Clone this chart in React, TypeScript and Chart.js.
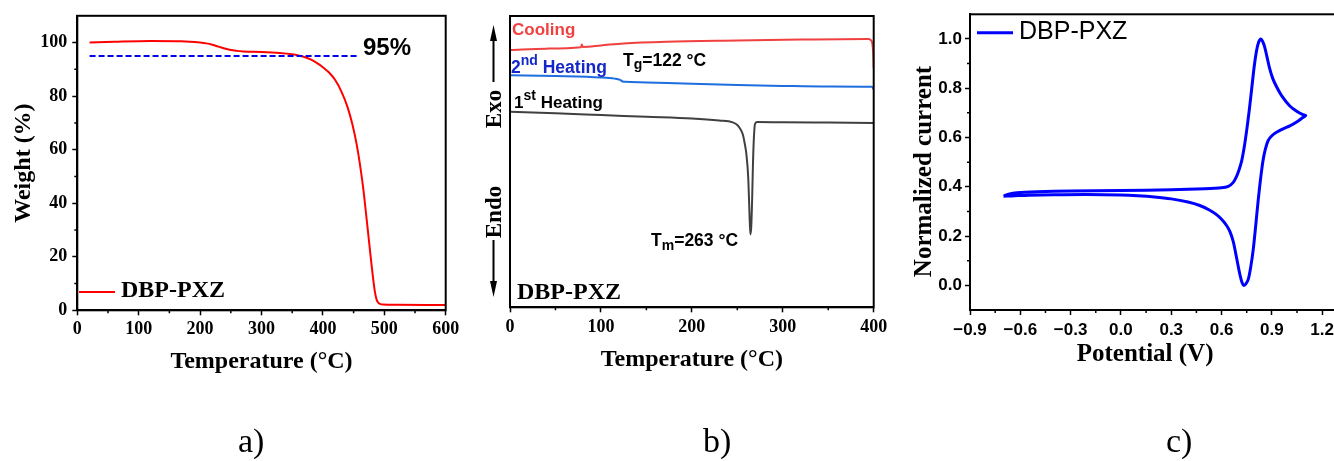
import React, { useEffect, useRef } from "react";
import { Chart, registerables } from "chart.js";

Chart.register(...registerables);

// ---------------- Panel a) TGA ----------------
const tgaTemperature = [20, 60, 120, 170, 200, 210, 220, 230, 240, 250, 260, 270, 300, 330, 350, 360, 370, 380, 390, 400, 410, 420, 430, 440, 448, 455, 461, 466, 471, 475, 479, 482, 485, 487.5, 490, 493, 498, 520, 600];
const tgaWeight = [100.0, 100.3, 100.6, 100.5, 100.0, 99.7, 99.2, 98.5, 97.8, 97.2, 96.9, 96.7, 96.5, 96.1, 95.6, 95.2, 94.6, 93.7, 92.4, 90.8, 88.8, 86.0, 81.8, 76.0, 69.5, 62.0, 53.5, 45.0, 34.5, 26.0, 17.5, 11.5, 6.5, 4.0, 2.9, 2.4, 2.15, 2.05, 2.0];
const t5Temperature = [20, 456];
const t5Weight = [95, 95];
const tgaXTicks = [0, 100, 200, 300, 400, 500, 600];
const tgaYTicks = [0, 20, 40, 60, 80, 100];

// ---------------- Panel b) DSC ----------------
const coolingTemperature = [0, 40, 78, 79, 80, 100, 125, 172, 250, 320, 394, 396.5, 398.5, 399.5, 400];
const coolingHeatFlow = [88.3, 88.8, 89.3, 90.2, 89.4, 89.9, 90.6, 91.2, 91.6, 91.9, 92.1, 91.8, 90.5, 87.0, 82.0];
const heating2Temperature = [0, 50, 100, 115, 121, 124, 127, 150, 200, 250, 300, 350, 398, 400];
const heating2HeatFlow = [79.7, 79.4, 78.9, 78.5, 78.1, 77.5, 77.4, 77.2, 76.7, 76.3, 76.0, 75.8, 75.7, 74.8];
const heating1Temperature = [0, 50, 100, 150, 200, 230, 245, 250, 253, 256, 258, 260, 262, 263.3, 264.3, 265.3, 266.3, 267.2, 268.2, 269.5, 272, 300, 350, 400];
const heating1HeatFlow = [67.1, 66.6, 66.0, 65.4, 64.8, 64.1, 63.5, 62.6, 61.4, 59.4, 56.5, 52.5, 44.5, 33.0, 25.0, 27.5, 37.0, 49.0, 58.0, 63.0, 63.6, 63.5, 63.4, 63.3];
const dscXTicks = [0, 100, 200, 300, 400];

// ---------------- Panel c) CV ----------------
const cvPotential = [
  -0.70, -0.67, -0.62, -0.50, -0.30, 0.00, 0.30, 0.50, 0.60, 0.64, 0.67, 0.69, 0.705, 0.72, 0.735, 0.75, 0.765, 0.78, 0.795, 0.808, 0.82, 0.834,
  0.845, 0.858, 0.87, 0.885, 0.905, 0.928, 0.96, 1.007, 1.05, 1.085, 1.102,
  1.085, 1.05, 1.007, 0.97, 0.93, 0.90, 0.878, 0.862, 0.848, 0.834, 0.819, 0.804, 0.789, 0.774, 0.759, 0.745, 0.733,
  0.722, 0.71, 0.69, 0.67, 0.65, 0.63, 0.60, 0.57, 0.53, 0.47, 0.40, 0.30, 0.20, 0.10, 0.00, -0.20, -0.40, -0.55, -0.65, -0.70,
];
const cvCurrent = [
  0.362, 0.370, 0.376, 0.380, 0.383, 0.385, 0.388, 0.392, 0.396, 0.402, 0.418, 0.443, 0.47, 0.505, 0.56, 0.63, 0.71, 0.80, 0.89, 0.95, 0.985, 1.0,
  0.99, 0.965, 0.93, 0.885, 0.84, 0.806, 0.768, 0.728, 0.706, 0.693, 0.689,
  0.681, 0.664, 0.647, 0.636, 0.622, 0.607, 0.588, 0.555, 0.51, 0.44, 0.349, 0.245, 0.146, 0.075, 0.024, 0.006, 0.0,
  0.012, 0.042, 0.11, 0.177, 0.218, 0.243, 0.268, 0.287, 0.305, 0.324, 0.338, 0.351, 0.359, 0.364, 0.367, 0.369, 0.368, 0.366, 0.363, 0.362,
];
const cvXTicks = [-0.9, -0.6, -0.3, 0.0, 0.3, 0.6, 0.9, 1.2];
const cvYTicks = [0.0, 0.2, 0.4, 0.6, 0.8, 1.0];

// ---------------- helpers ----------------
const serif = "'Liberation Serif', 'Times New Roman', serif";
const sans = "'Liberation Sans', Arial, sans-serif";

const pts = (xs: number[], ys: number[]) => xs.map((x, i) => ({ x, y: ys[i] }));
const midpoints = (t: number[]) => t.slice(1).map((v, i) => (v + t[i]) / 2);

function makeFrame(minorX: number[], minorY: number[]) {
  return {
    id: "frame",
    afterDatasetsDraw(chart: any) {
      const { ctx, chartArea } = chart;
      const { left, right, top, bottom } = chartArea;
      ctx.save();
      ctx.strokeStyle = "#000";
      ctx.lineWidth = 2;
      ctx.strokeRect(left, top, right - left, bottom - top);
      ctx.lineWidth = 1.5;
      ctx.beginPath();
      const xs = chart.scales.x;
      const ys = chart.scales.y;
      minorX.forEach((v) => {
        const p = xs.getPixelForValue(v);
        ctx.moveTo(p, bottom);
        ctx.lineTo(p, bottom + 3);
      });
      minorY.forEach((v) => {
        const p = ys.getPixelForValue(v);
        ctx.moveTo(left, p);
        ctx.lineTo(left - 3, p);
      });
      ctx.stroke();
      ctx.restore();
    },
  };
}

function axis(o: any) {
  return {
    type: "linear",
    min: o.min,
    max: o.max,
    afterBuildTicks: (s: any) => {
      if (o.ticks) s.ticks = o.ticks.map((v: number) => ({ value: v }));
    },
    afterFit: (s: any) => {
      if (o.horizontal) s.height = o.size;
      else s.width = o.size;
    },
    grid: {
      display: o.showTicks !== false,
      drawOnChartArea: false,
      drawTicks: true,
      tickLength: 5,
      tickWidth: 1.5,
      tickColor: "#000",
      color: "#000",
    },
    border: { display: true, color: "#000", width: 2 },
    ticks: {
      display: o.showLabels !== false,
      color: "#000",
      font: o.font,
      padding: o.tickPad ?? 3,
      autoSkip: false,
      maxRotation: 0,
      minRotation: 0,
      callback: (v: number) => (o.fmt ? o.fmt(v) : String(v)),
    },
    title: {
      display: !!o.title,
      text: o.title,
      color: "#000",
      font: o.titleFont,
      padding: o.titlePad ?? 0,
    },
  };
}

function ChartCanvas({ left, top, width, height, build }: any) {
  const ref = useRef<HTMLCanvasElement>(null);
  useEffect(() => {
    const chart = new Chart(ref.current as HTMLCanvasElement, build());
    return () => chart.destroy();
  }, []);
  return (
    <canvas
      ref={ref}
      width={width}
      height={height}
      style={{ position: "absolute", left, top, width, height }}
    />
  );
}

const baseOptions = (padding: any) => ({
  responsive: false,
  animation: false,
  devicePixelRatio: 1,
  events: [],
  layout: { padding },
  plugins: { legend: { display: false }, tooltip: { enabled: false } },
});

const tickFontSerif = { family: serif, size: 18, weight: "bold" };
const titleFontSerif = { family: serif, size: 24, weight: "bold" };
const cvFmt = (v: number) => {
  const s = Math.abs(v).toFixed(1);
  return v < -1e-9 ? "\u2212" + s : s;
};

function buildTga() {
  return {
    type: "line",
    data: {
      datasets: [
        {
          data: pts(t5Temperature, t5Weight),
          borderColor: "#0000ee",
          borderWidth: 2,
          borderDash: [6, 3],
          pointRadius: 0,
        },
        {
          data: pts(tgaTemperature, tgaWeight),
          borderColor: "#ff0000",
          borderWidth: 2,
          pointRadius: 0,
          cubicInterpolationMode: "monotone",
        },
      ],
    },
    options: {
      ...baseOptions({ left: 0, top: 15.7, right: 24.3, bottom: 0 }),
      scales: {
        x: axis({ min: 0, max: 600, ticks: tgaXTicks, horizontal: true, size: 89.7, font: tickFontSerif, tickPad: 3, title: "Temperature (°C)", titleFont: titleFontSerif, titlePad: { top: 0, bottom: 24 } }),
        y: axis({ min: 0, max: 110, ticks: tgaYTicks, size: 77.3, font: tickFontSerif, tickPad: 5, title: "Weight (%)", titleFont: titleFontSerif, titlePad: { top: 9.6, bottom: 0 } }),
      },
    },
    plugins: [makeFrame(midpoints(tgaXTicks), midpoints(tgaYTicks))],
  };
}

function buildDsc() {
  return {
    type: "line",
    data: {
      datasets: [
        { data: pts(coolingTemperature, coolingHeatFlow), borderColor: "rgb(240,64,64)", borderWidth: 2, pointRadius: 0, cubicInterpolationMode: "monotone" },
        { data: pts(heating2Temperature, heating2HeatFlow), borderColor: "rgb(30,110,225)", borderWidth: 2, pointRadius: 0, cubicInterpolationMode: "monotone" },
        { data: pts(heating1Temperature, heating1HeatFlow), borderColor: "rgb(64,64,64)", borderWidth: 2, pointRadius: 0, cubicInterpolationMode: "monotone" },
      ],
    },
    options: {
      ...baseOptions({ left: 0, top: 16, right: 26.3, bottom: 0 }),
      scales: {
        x: axis({ min: 0, max: 400, ticks: dscXTicks, horizontal: true, size: 92.7, font: tickFontSerif, tickPad: 4, title: "Temperature (°C)", titleFont: titleFontSerif, titlePad: { top: 0, bottom: 25.6 } }),
        y: axis({ min: 0, max: 100, ticks: null, size: 50, showTicks: false, showLabels: false }),
      },
    },
    plugins: [makeFrame(midpoints(dscXTicks), [])],
  };
}

function buildCv() {
  const tf = { family: sans, size: 17, weight: "bold" };
  const ttf = { family: serif, size: 25, weight: "bold" };
  return {
    type: "line",
    data: {
      datasets: [
        { data: pts(cvPotential, cvCurrent), borderColor: "#0000ff", borderWidth: 3, pointRadius: 0, tension: 0.3 },
      ],
    },
    options: {
      ...baseOptions({ left: 0, top: 14.3, right: 0, bottom: 0 }),
      scales: {
        x: axis({ min: -0.9, max: 1.3, ticks: cvXTicks, horizontal: true, size: 90, font: tf, tickPad: 5, fmt: cvFmt, title: "Potential (V)   ", titleFont: ttf, titlePad: { top: 0, bottom: 30 } }),
        y: axis({ min: -0.1, max: 1.1, ticks: cvYTicks, size: 70, font: tf, tickPad: 3, fmt: cvFmt, title: "Normalized current   ", titleFont: ttf, titlePad: { top: 10, bottom: 0 } }),
      },
    },
    plugins: [makeFrame(midpoints(cvXTicks), midpoints(cvYTicks))],
  };
}

function Txt({ x, y, size, family, weight = "bold", color = "#000", children }: any) {
  return (
    <div
      style={{
        position: "absolute",
        left: x,
        top: y - 0.84 * size,
        fontSize: size,
        lineHeight: `${size}px`,
        fontFamily: family,
        fontWeight: weight,
        color,
        whiteSpace: "nowrap",
      }}
    >
      {children}
    </div>
  );
}

const Sup = ({ children, size = 13, shift = -8 }: any) => (
  <span style={{ fontSize: size, position: "relative", top: shift, lineHeight: 0 }}>{children}</span>
);

function Rot({ x, y, size, children }: any) {
  return (
    <div
      style={{
        position: "absolute",
        left: x,
        top: y,
        transform: "translate(-50%, -50%) rotate(-90deg)",
        fontFamily: serif,
        fontWeight: "bold",
        fontSize: size,
        lineHeight: `${size}px`,
        whiteSpace: "nowrap",
      }}
    >
      {children}
    </div>
  );
}

export default function App() {
  return (
    <div
      style={{
        position: "absolute",
        left: 0,
        top: 0,
        width: 1334,
        height: 461,
        overflow: "hidden",
        background: "#fff",
      }}
    >
      <ChartCanvas left={0} top={0} width={470} height={400} build={buildTga} />
      <ChartCanvas left={460} top={0} width={440} height={400} build={buildDsc} />
      <ChartCanvas left={900} top={0} width={439} height={400} build={buildCv} />

      <svg width={1334} height={461} style={{ position: "absolute", left: 0, top: 0, pointerEvents: "none" }}>
        <line x1={79} y1={292} x2={115} y2={292} stroke="#ff0000" strokeWidth={2} />
        <line x1={977} y1={32.7} x2={1013} y2={32.7} stroke="#0000ff" strokeWidth={3} />
        <line x1={493.5} y1={38} x2={493.5} y2={82} stroke="#000" strokeWidth={2} />
        <polygon points="493.5,25 490,41 497,41" fill="#000" />
        <line x1={493.5} y1={240} x2={493.5} y2={284} stroke="#000" strokeWidth={2} />
        <polygon points="493.5,297 490,281 497,281" fill="#000" />
      </svg>

      {/* panel a */}
      <Txt x={363} y={55} size={24} family={sans}>95%</Txt>
      <Txt x={121} y={297} size={24} family={serif}>DBP-PXZ</Txt>

      {/* panel b */}
      <Txt x={512} y={35} size={17} family={sans} color="rgb(240,64,64)">Cooling</Txt>
      <Txt x={511} y={73.3} size={17.5} family={sans} color="rgb(20,40,200)">
        2<Sup size={14} shift={-8}>nd</Sup> Heating
      </Txt>
      <Txt x={623} y={66.7} size={17.5} family={sans}>
        T<Sup size={14} shift={3}>g</Sup>=122 °C
      </Txt>
      <Txt x={514} y={108.3} size={17} family={sans}>
        1<Sup size={14} shift={-8}>st</Sup> Heating
      </Txt>
      <Txt x={651} y={246.7} size={17.5} family={sans}>
        T<Sup size={14} shift={4}>m</Sup>=263 °C
      </Txt>
      <Txt x={517} y={299} size={24} family={serif}>DBP-PXZ</Txt>
      <Rot x={493} y={109} size={23}>Exo</Rot>
      <Rot x={493} y={211.5} size={23}>Endo</Rot>

      {/* panel c */}
      <Txt x={1019} y={39.3} size={25} family={sans} weight="normal">DBP-PXZ</Txt>

      {/* sub-figure labels */}
      <Txt x={238} y={453} size={34} family={serif} weight="normal">a)</Txt>
      <Txt x={703} y={453} size={34} family={serif} weight="normal">b)</Txt>
      <Txt x={1166} y={453} size={34} family={serif} weight="normal">c)</Txt>
    </div>
  );
}
